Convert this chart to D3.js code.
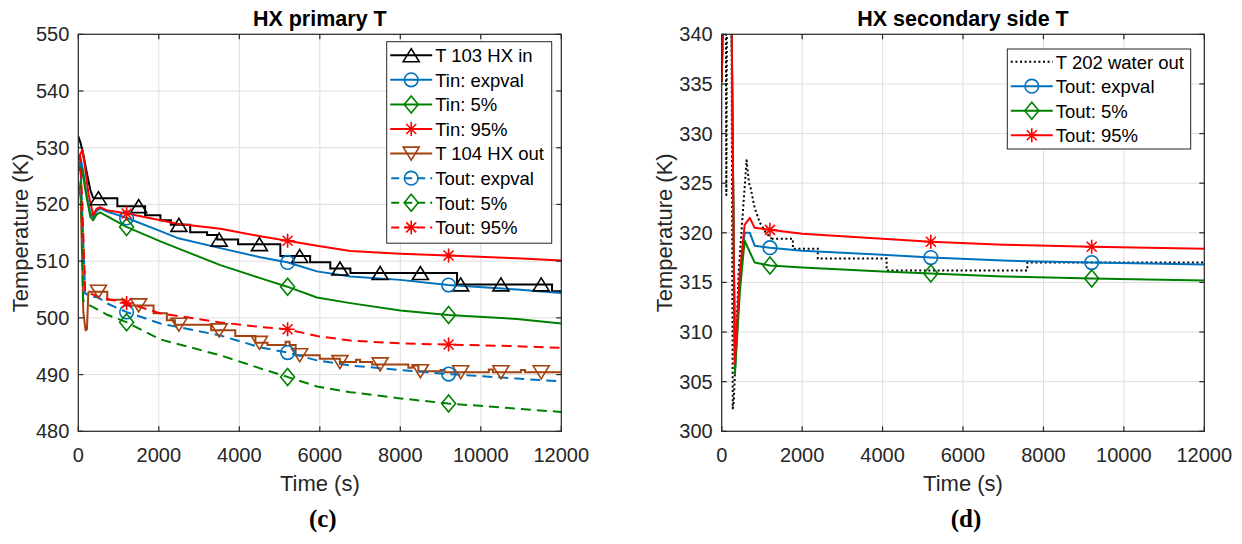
<!DOCTYPE html>
<html><head><meta charset="utf-8">
<script src="https://cdn.jsdelivr.net/npm/d3@7"></script>
<style>body{margin:0;background:#fff} text{font-family:"Liberation Sans",Arial,sans-serif;fill:#262626}</style>
</head><body><svg id="c" width="1242" height="544" xmlns="http://www.w3.org/2000/svg"></svg>
<script>
// ---------------- DATA ----------------
const timeTicks = [0, 2000, 4000, 6000, 8000, 10000, 12000];
const leftYTicks = [480, 490, 500, 510, 520, 530, 540, 550];
const rightYTicks = [300, 305, 310, 315, 320, 325, 330, 335, 340];
const stepMarkerTimes = [500, 1500, 2500, 3500, 4500, 5500, 6500, 7500, 8500, 9500, 10500, 11500];
const modelMarkerTimes = [1200, 5200, 9200];

// Left panel: HX primary T
const t103Ramp = [[0,532],[50,531],[120,529],[200,526],[300,522.5],[370,521.1]];
const t103Steps = [[370,521.1],[970,519.7],[1660,518.1],[2040,517.2],[2300,516.4],[2780,515.1],[3200,514.6],[3450,513.8],[3970,513.0],[5020,510.9],[5760,509.8],[6260,508.7],[6760,507.9],[9410,505.9],[11770,504.7],[12000,504.7]];
const tinExp = [[0,527.8],[60,528],[120,526],[200,522],[300,518.5],[370,517.7],[450,518.8],[540,519.3],[700,518.8],[1210,517.6],[2040,515.3],[2460,514.1],[3530,512.3],[4520,510.7],[5190,509.8],[5930,508.2],[6760,507.3],[8000,506.7],[9190,505.8],[10900,505.0],[12000,504.4]];
const tin5 = [[0,526.6],[60,526.8],[120,525],[200,521.5],[300,517.8],[370,517.2],[450,518.2],[540,518.6],[700,518],[1210,516.0],[2040,513.5],[2460,512.3],[3530,509.3],[4520,507.0],[5190,505.5],[5930,503.6],[6760,502.6],[8000,501.3],[9190,500.5],[10900,499.8],[12000,499.0]];
const tin95 = [[0,528.1],[100,529.6],[160,527],[250,522],[370,518.1],[450,519.2],[540,519.5],[700,519],[1210,518.4],[2040,517.2],[2460,516.6],[3530,515.7],[4520,514.4],[5190,513.6],[5930,512.7],[6760,511.8],[8000,511.3],[9190,511.0],[10900,510.5],[12000,510.1]];
const t104Ramp = [[0,524],[60,521],[125,501],[180,497.8],[215,498],[250,504.6]];
const t104Steps = [[250,504.6],[720,503.2],[1150,502.2],[1870,500.8],[2200,499.6],[2400,498.8],[3300,497.8],[3900,496.8],[4400,495.6],[4700,495.2],[5150,495.8],[5250,495.2],[5400,493.4],[6000,492.8],[6500,492.2],[6900,492.6],[7000,492.2],[7300,491.8],[8200,491.2],[8300,491.6],[8450,490.6],[9000,490.8],[9100,490.4],[10200,490.9],[10300,490.4],[11000,490.8],[11100,490.4],[12000,490.4]];
const toutExp = [[0,527],[50,527.5],[100,518],[170,504.3],[300,503.8],[500,503.6],[700,502.6],[1210,501.0],[2040,499.0],[3530,496.9],[4520,494.8],[5190,493.9],[5930,492.5],[6760,491.6],[8000,490.8],[9190,490.1],[10900,489.3],[12000,488.8]];
const tout5 = [[0,526],[50,526.5],[90,516],[120,503.1],[250,502.3],[370,501.9],[700,500.6],[1210,499.2],[2040,496.2],[3530,493.4],[4520,491.1],[5190,489.6],[5930,487.9],[6760,486.9],[8000,485.8],[9190,484.9],[10900,484.0],[12000,483.4]];
const tout95 = [[0,528],[50,528.5],[100,520],[170,504.9],[300,504.3],[540,503.6],[1210,502.6],[2040,500.8],[3530,499.2],[4520,498.4],[5190,498.0],[5930,496.8],[6760,496.0],[8000,495.5],[9190,495.3],[10900,495.0],[12000,494.7]];

// Right panel: HX secondary side T
const t202Ramp = [[0,348],[100,348],[115,323.8],[135,348],[240,346],[275,302.3],[300,303],[330,306],[420,316],[560,324],[620,327.3],[680,325],[720,324.5],[820,322.5],[950,321],[1100,320],[1240,319.4]];
const t202Steps = [[1240,319.4],[1770,318.4],[2390,317.4],[4100,316.2],[7600,317.0],[12000,317.0]];
const sExp = [[0,335.2],[50,345],[200,348],[250,340],[330,306.2],[450,315],[570,320],[700,320],[820,318.7],[1200,318.5],[2000,318.2],[4000,317.8],[5200,317.5],[7000,317.2],[9200,317.0],[12000,316.8]];
const s5 = [[0,335.2],[50,345],[200,348],[250,340],[330,305.8],[450,314],[570,319.2],[820,317.0],[1200,316.7],[2000,316.5],[4000,316.1],[5200,315.9],[7000,315.6],[9200,315.4],[12000,315.2]];
const s95 = [[0,335.2],[50,345],[200,348],[250,340],[325,306.8],[450,316],[570,320.8],[700,321.5],[820,320.5],[1200,320.3],[2000,319.9],[4000,319.4],[5200,319.1],[7000,318.8],[9200,318.6],[12000,318.4]];

const leftLabels = ["T 103 HX in","Tin: expval","Tin: 5%","Tin: 95%","T 104 HX out","Tout: expval","Tout: 5%","Tout: 95%"];
const rightLabels = ["T 202 water out","Tout: expval","Tout: 5%","Tout: 95%"];

// ---------------- STYLE ----------------
const C = {black:"#000000", blue:"#0072BD", green:"#008000", red:"#FF0000", brown:"#A3410F"};
const DASH = "10,6", DOT = "2,2.6";

const svg = d3.select("#c");

function valueAt(s, t){
  if (s.steps && t >= s.steps[0][0]) {
    let v = s.steps[0][1];
    for (const p of s.steps) if (p[0] <= t) v = p[1];
    return v;
  }
  const d = s.ramp;
  for (let i=1;i<d.length;i++){
    if (t <= d[i][0]) { const a=d[i-1], b=d[i]; return a[1] + (b[1]-a[1])*(t-a[0])/(b[0]-a[0]); }
  }
  return d[d.length-1][1];
}

function marker(g, type, x, y, color){
  let p;
  if (type==="tri") p = "M0,-6.5L8,6.5L-8,6.5Z";
  else if (type==="tridown") p = "M0,6.5L8,-6.5L-8,-6.5Z";
  else if (type==="diamond") p = "M0,-8.5L7,0L0,8.5L-7,0Z";
  else if (type==="circle") p = "M-6.8,0A6.8,6.8 0 1,0 6.8,0A6.8,6.8 0 1,0 -6.8,0Z";
  else if (type==="star") p = "M0,-7L0,7M-7,0L7,0M-5,-5L5,5M-5,5L5,-5";
  if (!p) return;
  g.append("path").attr("d", p).attr("transform", `translate(${x},${y})`)
    .attr("fill","none").attr("stroke", color).attr("stroke-width", 1.6);
}

function panel(cfg){
  const x = d3.scaleLinear().domain([0,12000]).range([cfg.x0, cfg.x1]);
  const y = d3.scaleLinear().domain(cfg.yDomain).range([cfg.y1, cfg.y0]);
  const g = svg.append("g");
  const clipId = "clip" + cfg.id;
  svg.append("clipPath").attr("id", clipId).append("rect")
    .attr("x", cfg.x0).attr("y", cfg.y0).attr("width", cfg.x1-cfg.x0).attr("height", cfg.y1-cfg.y0);
  // grid
  g.selectAll(".gx").data(timeTicks).enter().append("line")
    .attr("x1", d=>x(d)).attr("x2", d=>x(d)).attr("y1", cfg.y0).attr("y2", cfg.y1)
    .attr("stroke","#dedede").attr("stroke-width",1);
  g.selectAll(".gy").data(cfg.yTicks).enter().append("line")
    .attr("y1", d=>y(d)).attr("y2", d=>y(d)).attr("x1", cfg.x0).attr("x2", cfg.x1)
    .attr("stroke","#dedede").attr("stroke-width",1);
  // series
  const plot = g.append("g").attr("clip-path", `url(#${clipId})`);
  const lin = d3.line().x(d=>x(d[0])).y(d=>y(d[1]));
  const stp = d3.line().x(d=>x(d[0])).y(d=>y(d[1])).curve(d3.curveStepAfter);
  cfg.series.forEach(s=>{
    plot.append("path").attr("d", lin(s.ramp)).attr("fill","none").attr("stroke", s.color)
      .attr("stroke-width", 2).attr("stroke-dasharray", s.dash || null).attr("stroke-linejoin","round");
    if (s.steps) plot.append("path").attr("d", stp(s.steps)).attr("fill","none").attr("stroke", s.color)
      .attr("stroke-width", 2).attr("stroke-dasharray", s.dash || null);
  });
  cfg.series.forEach(s=>{
    if (!s.marker) return;
    s.mTimes.forEach(t=> marker(plot, s.marker, x(t), y(valueAt(s,t)), s.color));
  });
  // axes (MATLAB-style box with inward ticks on all sides)
  const ax = "#262626";
  const tl = 5;
  g.append("rect").attr("x", cfg.x0).attr("y", cfg.y0).attr("width", cfg.x1-cfg.x0).attr("height", cfg.y1-cfg.y0)
    .attr("fill","none").attr("stroke", ax).attr("stroke-width", 1.2);
  timeTicks.forEach(t=>{
    g.append("line").attr("x1",x(t)).attr("x2",x(t)).attr("y1",cfg.y1).attr("y2",cfg.y1-tl).attr("stroke",ax).attr("stroke-width",1.2);
    g.append("line").attr("x1",x(t)).attr("x2",x(t)).attr("y1",cfg.y0).attr("y2",cfg.y0+tl).attr("stroke",ax).attr("stroke-width",1.2);
    g.append("text").attr("x", x(t)).attr("y", cfg.y1+30.5).attr("text-anchor","middle")
      .attr("font-size", 20).text(t);
  });
  cfg.yTicks.forEach(v=>{
    g.append("line").attr("x1",cfg.x0).attr("x2",cfg.x0+tl).attr("y1",y(v)).attr("y2",y(v)).attr("stroke",ax).attr("stroke-width",1.2);
    g.append("line").attr("x1",cfg.x1).attr("x2",cfg.x1-tl).attr("y1",y(v)).attr("y2",y(v)).attr("stroke",ax).attr("stroke-width",1.2);
    g.append("text").attr("x", cfg.x0-9).attr("y", y(v)+7).attr("text-anchor","end")
      .attr("font-size", 20).text(v);
  });
  // labels
  const cx = (cfg.x0+cfg.x1)/2, cy = (cfg.y0+cfg.y1)/2;
  g.append("text").attr("x", cx).attr("y", 26).attr("text-anchor","middle").attr("font-size", 21.5)
    .attr("font-weight","bold").style("fill","#000").text(cfg.title);
  g.append("text").attr("x", cx).attr("y", 491).attr("text-anchor","middle").attr("font-size", 22).text("Time (s)");
  g.append("text").attr("transform", `translate(${cfg.x0-50},${cy}) rotate(-90)`).attr("text-anchor","middle")
    .attr("font-size", 22).text("Temperature (K)");
  g.append("text").attr("x", cx+3).attr("y", 527).attr("text-anchor","middle").attr("font-size", 25)
    .attr("font-weight","bold").style("font-family","'Liberation Serif','Times New Roman',serif").style("fill","#000").text(cfg.tag);
  // legend
  const L = cfg.legend;
  const lg = g.append("g");
  lg.append("rect").attr("x", L.x).attr("y", L.y).attr("width", L.w).attr("height", L.h)
    .attr("fill","#fff").attr("stroke", ax).attr("stroke-width", 1);
  cfg.series.forEach((s,i)=>{
    const ry = L.y + L.first + i*L.row;
    lg.append("line").attr("x1", L.x+3.5).attr("x2", L.x+45.5).attr("y1", ry).attr("y2", ry)
      .attr("stroke", s.color).attr("stroke-width", 2).attr("stroke-dasharray", s.dash ? (s.dash===DASH ? "8,5" : s.dash) : null)
      .attr("stroke-dashoffset", s.dash===DASH ? -1 : 0);
    if (s.marker) marker(lg, s.marker, L.x+24.5, ry, s.color);
    lg.append("text").attr("x", L.x+48.5).attr("y", ry+6.8).attr("font-size", 18.5).style("fill","#000").text(cfg.labels[i]);
  });
}

panel({
  id: "L", x0: 78.3, x1: 561.3, y0: 34.3, y1: 431.3, yDomain: [480,550], yTicks: leftYTicks,
  title: "HX primary T", tag: "(c)", labels: leftLabels,
  legend: {x: 386.7, y: 41.7, w: 165, h: 201.5, first: 13.5, row: 24.6},
  series: [
    {ramp: t103Ramp, steps: t103Steps, color: C.black, marker: "tri", mTimes: stepMarkerTimes},
    {ramp: tinExp, color: C.blue, marker: "circle", mTimes: modelMarkerTimes},
    {ramp: tin5, color: C.green, marker: "diamond", mTimes: modelMarkerTimes},
    {ramp: tin95, color: C.red, marker: "star", mTimes: modelMarkerTimes},
    {ramp: t104Ramp, steps: t104Steps, color: C.brown, marker: "tridown", mTimes: stepMarkerTimes},
    {ramp: toutExp, color: C.blue, dash: DASH, marker: "circle", mTimes: modelMarkerTimes},
    {ramp: tout5, color: C.green, dash: DASH, marker: "diamond", mTimes: modelMarkerTimes},
    {ramp: tout95, color: C.red, dash: DASH, marker: "star", mTimes: modelMarkerTimes}
  ]
});

panel({
  id: "R", x0: 721.7, x1: 1204.3, y0: 34.3, y1: 431.3, yDomain: [300,340], yTicks: rightYTicks,
  title: "HX secondary side T", tag: "(d)", labels: rightLabels,
  legend: {x: 1007.3, y: 49, w: 183.4, h: 100, first: 12.7, row: 24.5},
  series: [
    {ramp: t202Ramp, steps: t202Steps, color: C.black, dash: DOT},
    {ramp: sExp, color: C.blue, marker: "circle", mTimes: modelMarkerTimes},
    {ramp: s5, color: C.green, marker: "diamond", mTimes: modelMarkerTimes},
    {ramp: s95, color: C.red, marker: "star", mTimes: modelMarkerTimes}
  ]
});
</script></body></html>
